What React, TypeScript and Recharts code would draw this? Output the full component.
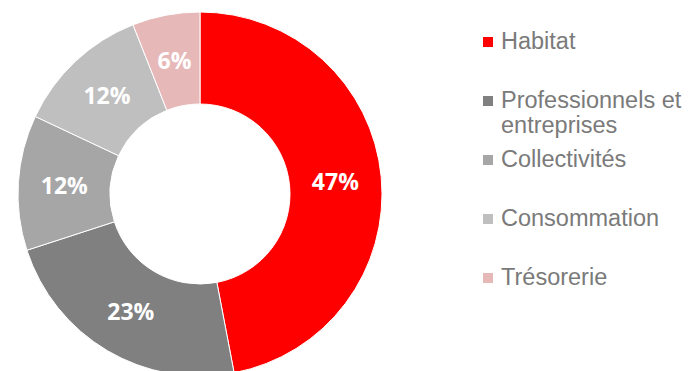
import { PieChart, Pie, Cell, Legend } from "recharts";

const categories = [
  "Habitat",
  "Professionnels et entreprises",
  "Collectivités",
  "Consommation",
  "Trésorerie",
];
const shares = [47, 23, 12, 12, 6];
const colors = ["#FF0000", "#808080", "#A6A6A6", "#BFBFBF", "#E6B9B8"];

const data = categories.map((name, i) => ({ name, value: shares[i] }));

const RADIAN = Math.PI / 180;

const renderLabel = (props: any) => {
  const { cx, cy, midAngle, innerRadius, outerRadius, value } = props;
  const r = (innerRadius + outerRadius) / 2;
  const x = cx + r * Math.cos(-midAngle * RADIAN);
  const y = cy + r * Math.sin(-midAngle * RADIAN);
  return (
    <text
      x={x}
      y={y}
      fill="#fff"
      textAnchor="middle"
      dominantBaseline="central"
      fontFamily="'Open Sans', sans-serif"
      fontWeight={700}
      fontSize={23}
    >
      {value}%
    </text>
  );
};

const CustomLegend = () => (
  <div style={{ fontFamily: "'Liberation Sans', Arial, sans-serif" }}>
    {categories.map((name, i) => (
      <div
        key={name}
        style={{ height: 59, display: "flex", alignItems: "flex-start" }}
      >
        <div
          style={{
            width: 10,
            height: 10,
            marginTop: 8,
            marginRight: 8,
            flexShrink: 0,
            background: colors[i],
          }}
        />
        <div style={{ fontSize: 23.5, lineHeight: "25px", color: "#7a7a7a" }}>
          {name}
        </div>
      </div>
    ))}
  </div>
);

export default function App() {
  return (
    <div
      style={{
        position: "absolute",
        left: 0,
        top: 0,
        width: 688,
        height: 371,
        background: "#fff",
        overflow: "hidden",
      }}
    >
      <PieChart
        width={688}
        height={371}
        margin={{ top: 0, right: 0, bottom: 0, left: 0 }}
      >
        <Pie
          data={data}
          dataKey="value"
          nameKey="name"
          cx={200}
          cy={194}
          innerRadius={90}
          outerRadius={182}
          startAngle={90}
          endAngle={-270}
          stroke="#fff"
          strokeWidth={1}
          label={renderLabel}
          labelLine={false}
          isAnimationActive={false}
        >
          {data.map((d, i) => (
            <Cell key={d.name} fill={colors[i]} />
          ))}
        </Pie>
        <Legend
          content={<CustomLegend />}
          wrapperStyle={{ position: "absolute", left: 483, top: 29, width: 205 }}
        />
      </PieChart>
    </div>
  );
}
